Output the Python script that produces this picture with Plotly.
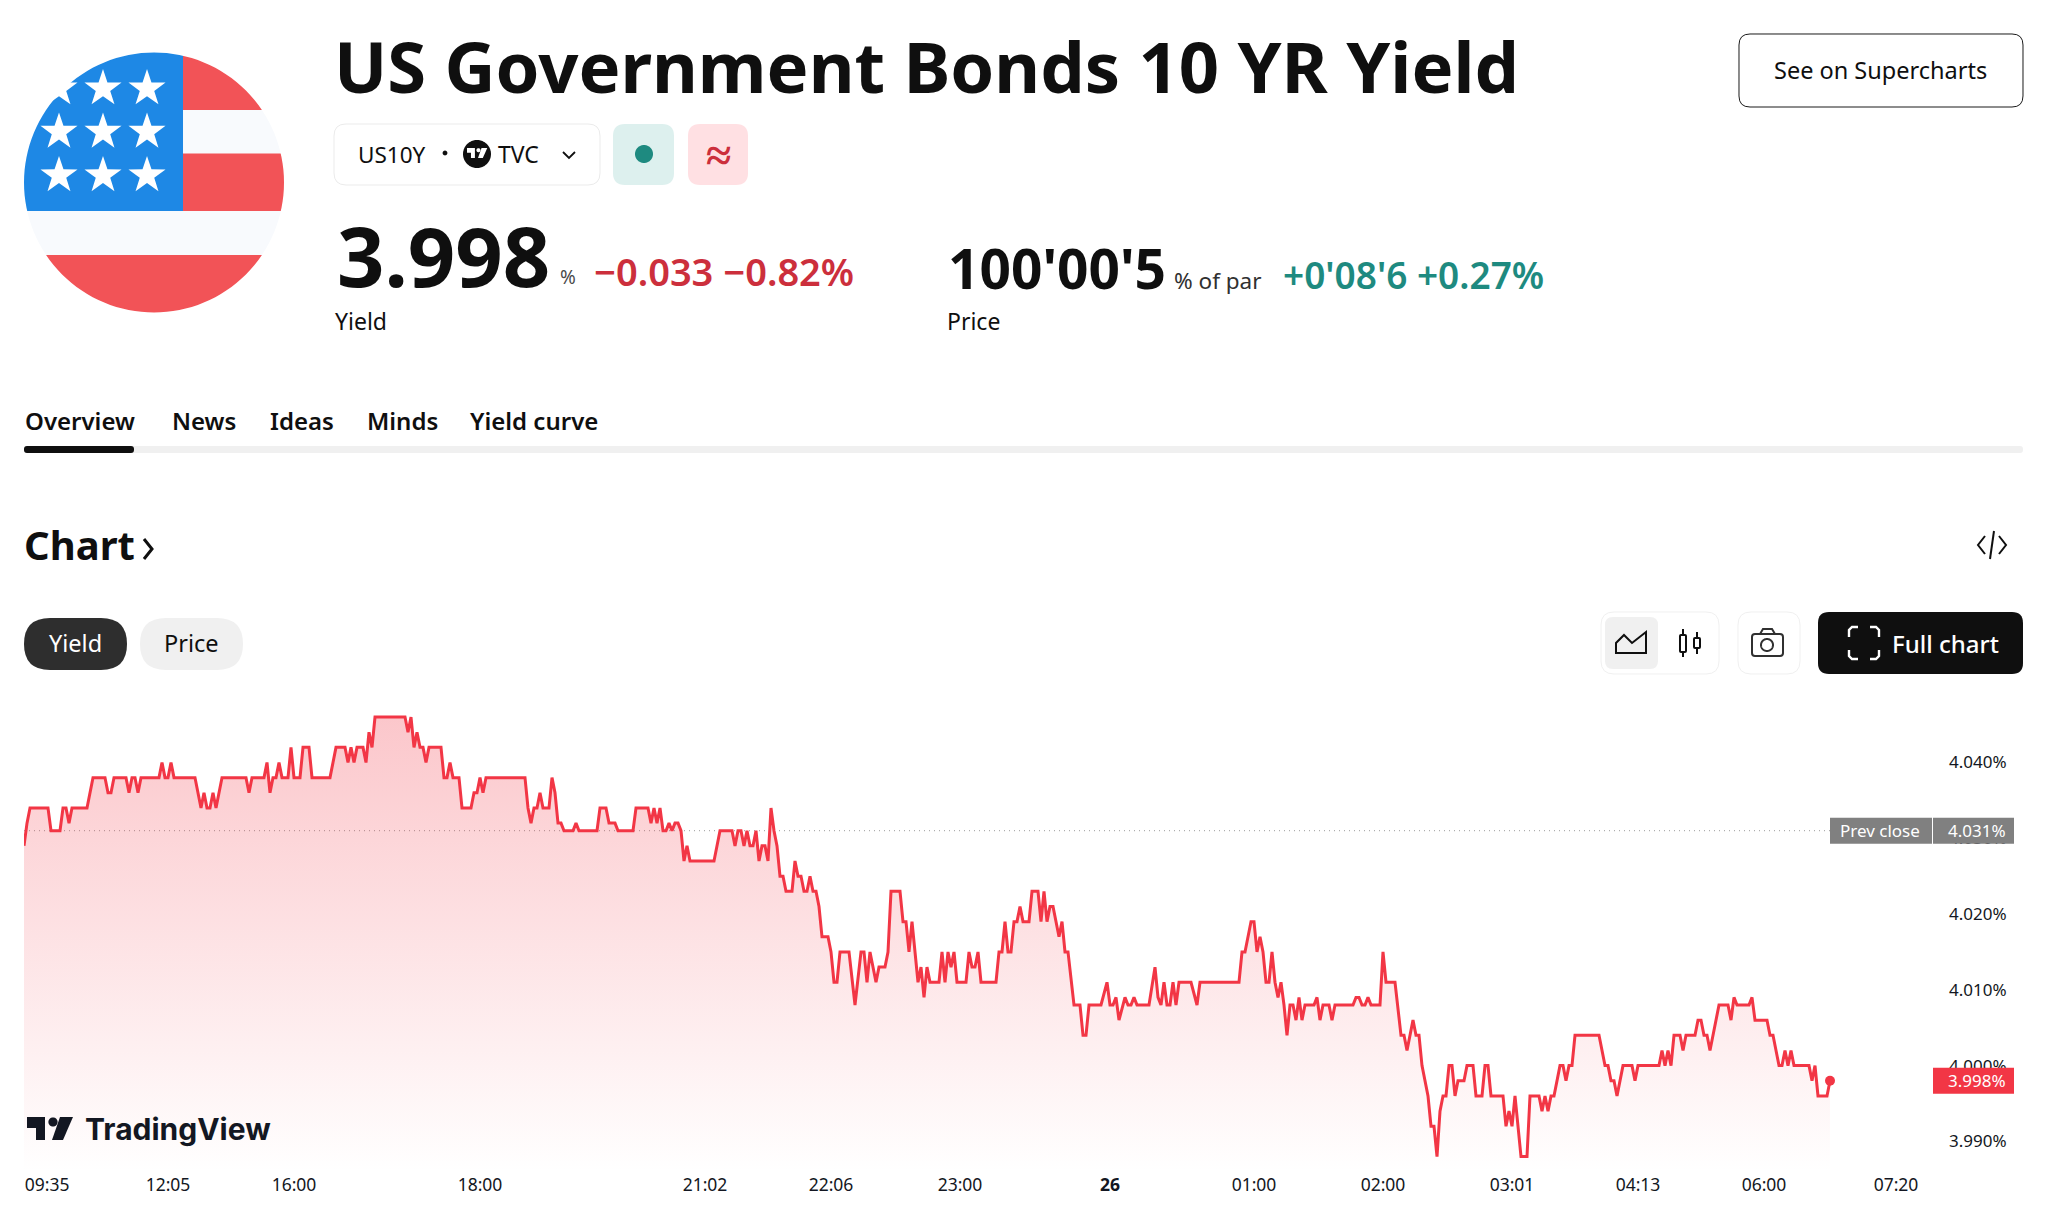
import numpy as np
import plotly.graph_objects as go

W, H = 2048, 1219
FONT = "Noto Sans"
INK = "#131722"

# ---------- data ----------
bar_index = [
0,1,2,8,9,12,13,14,15,16,21,23,27,28,29,30,34,35,36,37,38,39,45,46,47,48,49,50,57,59,60,61,62,63,64,66,74,75,76,80,
81,82,83,84,85,86,88,89,90,92,93,95,96,102,104,107,108,109,110,111,113,114,115,116,117,127,128,129,130,131,132,133,134,135,139,140,141,142,143,145,
146,149,150,151,152,153,154,167,168,169,170,171,172,173,175,176,177,178,179,180,183,184,185,191,192,194,195,197,198,203,204,208,209,210,211,212,213,214,215,216,
217,218,219,220,221,222,230,232,236,237,238,239,240,241,242,243,244,245,246,247,248,249,250,251,252,253,254,256,257,258,259,260,261,262,263,264,265,266,268,269,
270,271,272,275,277,279,280,281,282,284,285,287,288,289,292,293,294,295,296,298,299,300,301,302,305,306,307,308,309,310,311,312,314,315,316,317,318,319,324,325,
326,327,328,329,330,331,332,333,335,336,338,339,340,341,342,343,345,346,347,348,350,352,353,354,355,359,361,362,363,364,365,367,368,369,370,371,375,377,378,379,
380,381,382,383,384,385,389,391,392,405,406,407,409,410,411,412,413,414,415,416,417,418,419,420,421,422,423,424,425,426,427,430,431,432,433,435,436,437,443,444,
445,446,447,448,449,452,453,454,457,459,460,461,463,464,465,466,467,468,469,470,471,472,473,474,475,476,477,478,480,481,483,484,486,487,488,489,493,494,495,496,
497,499,501,502,505,506,507,508,509,510,512,513,514,515,516,517,525,527,528,529,530,531,533,536,537,538,545,546,547,548,549,550,552,553,554,557,558,559,560,561,
562,565,568,569,570,571,575,576,577,581,582,583,585,586,587,588,589,590,595,596,597,598,601,602,
]
yield_pct = [
4.029,4.032,4.034,4.034,4.031,4.031,4.034,4.034,4.032,4.034,4.034,4.038,4.038,4.036,4.036,4.038,4.038,4.036,4.038,4.038,4.036,4.038,4.038,4.040,4.038,4.038,4.040,4.038,4.038,4.034,4.036,4.034,4.034,4.036,4.034,4.038,4.038,4.036,4.038,4.038,
4.040,4.036,4.038,4.038,4.040,4.038,4.038,4.042,4.038,4.038,4.042,4.042,4.038,4.038,4.042,4.042,4.040,4.042,4.040,4.042,4.042,4.040,4.044,4.042,4.046,4.046,4.044,4.046,4.042,4.044,4.042,4.042,4.040,4.042,4.042,4.038,4.038,4.040,4.038,4.038,
4.034,4.034,4.036,4.036,4.038,4.036,4.038,4.038,4.034,4.032,4.034,4.034,4.036,4.034,4.034,4.038,4.036,4.032,4.032,4.031,4.031,4.032,4.031,4.031,4.034,4.034,4.032,4.032,4.031,4.031,4.034,4.034,4.032,4.034,4.032,4.034,4.031,4.031,4.032,4.031,
4.032,4.032,4.031,4.027,4.029,4.027,4.027,4.031,4.031,4.029,4.031,4.031,4.029,4.031,4.029,4.029,4.031,4.027,4.029,4.029,4.027,4.034,4.031,4.029,4.025,4.025,4.023,4.023,4.027,4.025,4.025,4.023,4.023,4.025,4.023,4.023,4.021,4.017,4.017,4.015,
4.011,4.011,4.015,4.015,4.008,4.015,4.015,4.011,4.015,4.011,4.013,4.013,4.015,4.023,4.023,4.019,4.019,4.015,4.019,4.011,4.013,4.009,4.013,4.011,4.011,4.015,4.011,4.015,4.013,4.015,4.011,4.011,4.011,4.015,4.013,4.013,4.015,4.011,4.011,4.015,
4.015,4.019,4.015,4.015,4.019,4.019,4.021,4.019,4.019,4.023,4.023,4.019,4.023,4.019,4.021,4.021,4.017,4.019,4.015,4.015,4.008,4.008,4.004,4.004,4.008,4.008,4.011,4.008,4.008,4.009,4.006,4.009,4.008,4.008,4.009,4.008,4.008,4.013,4.009,4.008,
4.011,4.008,4.008,4.011,4.008,4.011,4.011,4.008,4.011,4.011,4.015,4.015,4.019,4.019,4.015,4.017,4.015,4.011,4.011,4.015,4.011,4.009,4.011,4.008,4.004,4.008,4.008,4.006,4.009,4.006,4.008,4.008,4.009,4.006,4.008,4.008,4.006,4.008,4.008,4.009,
4.009,4.008,4.008,4.009,4.008,4.008,4.015,4.011,4.011,4.004,4.004,4.002,4.006,4.004,4.004,4.000,3.998,3.996,3.992,3.992,3.988,3.994,3.996,3.996,4.000,4.000,3.996,3.998,3.998,4.000,4.000,3.996,3.996,4.000,4.000,3.996,3.996,3.992,3.994,3.992,
3.996,3.988,3.988,3.996,3.996,3.994,3.996,3.994,3.996,3.996,4.000,4.000,3.998,4.000,4.000,4.004,4.004,4.000,4.000,3.998,3.998,3.996,4.000,4.000,3.998,4.000,4.000,4.002,4.000,4.002,4.000,4.004,4.004,4.002,4.004,4.004,4.006,4.006,4.004,4.004,
4.002,4.008,4.008,4.006,4.009,4.008,4.008,4.009,4.006,4.006,4.004,4.004,4.000,4.000,4.002,4.000,4.002,4.000,4.000,3.998,4.000,3.996,3.996,3.998,
]
assert len(bar_index) == len(yield_pct)

prev_close = 4.031
y_tick_values = [3.990, 4.000, 4.010, 4.020, 4.030, 4.040]
y_tick_labels = ["3.990%", "4.000%", "4.010%", "4.020%", "4.030%", "4.040%"]
x_tick_bars = [7.7, 48, 90, 152, 227, 269, 312, 362, 410, 453, 496, 538, 580, 624]
x_tick_labels = ["09:35", "12:05", "16:00", "18:00", "21:02", "22:06", "23:00", "<b>26</b>",
                 "01:00", "02:00", "03:01", "04:13", "06:00", "07:20"]

# ---------- page geometry helpers ----------
def X(p): return p / W
def Y(p): return 1 - p / H

shapes, annots = [], []

def path_of(pts, close=True):
    s = "M" + " L".join(f"{X(a):.5f},{Y(b):.5f}" for a, b in pts)
    return s + (" Z" if close else "")

def add_path(d, fill=None, line=None, lw=0):
    shapes.append(dict(type="path", path=d, xref="paper", yref="paper", layer="above",
                       fillcolor=fill or "rgba(0,0,0,0)",
                       line=dict(color=line or "rgba(0,0,0,0)", width=lw)))

def poly(pts, fill=None, line=None, lw=0, close=True):
    add_path(path_of(pts, close), fill, line, lw)

def rrect(x0, y0, x1, y1, r, fill=None, line=None, lw=0):
    a = lambda x, y: f"{X(x):.5f},{Y(y):.5f}"
    d = (f"M{a(x0+r,y0)} L{a(x1-r,y0)} Q{a(x1,y0)} {a(x1,y0+r)} L{a(x1,y1-r)} Q{a(x1,y1)} {a(x1-r,y1)} "
         f"L{a(x0+r,y1)} Q{a(x0,y1)} {a(x0,y1-r)} L{a(x0,y0+r)} Q{a(x0,y0)} {a(x0+r,y0)} Z")
    add_path(d, fill, line, lw)

def circle_pts(cx, cy, r, n=96, rev=False):
    t = np.linspace(0, 2 * np.pi, n, endpoint=False)
    if rev:
        t = t[::-1]
    return [(cx + r * np.cos(v), cy + r * np.sin(v)) for v in t]

def circle(cx, cy, r, fill=None, line=None, lw=0):
    poly(circle_pts(cx, cy, r), fill, line, lw)

def txt(x, y, text, size, color=INK, anchor="left", weight=400, font=FONT):
    annots.append(dict(x=X(x), y=Y(y), xref="paper", yref="paper", text=text, showarrow=False,
                       xanchor=anchor, yanchor="middle", borderpad=0,
                       font=dict(family=font, size=size, color=color, weight=weight)))

# ---------- flag ----------
BLUE, RED, WHT = "#1E88E5", "#F25357", "#F8FAFD"
cx, cy, R = 154, 182.5, 130
poly([(20, 48), (290, 48), (290, 318), (20, 318)], WHT)
poly([(183, 48), (290, 48), (290, 110), (183, 110)], RED)
poly([(183, 153.5), (290, 153.5), (290, 211), (183, 211)], RED)
poly([(20, 255), (290, 255), (290, 318), (20, 318)], RED)
poly([(20, 48), (183, 48), (183, 211), (20, 211)], BLUE)
for sy in (88.6, 131.9, 175.5):
    for sx in (59, 103, 147):
        pts = []
        for k in range(10):
            rad = 19.5 if k % 2 == 0 else 7.6
            ang = -np.pi / 2 + k * np.pi / 5
            pts.append((sx + rad * np.cos(ang), sy + rad * np.sin(ang)))
        poly(pts, "#FFFFFF")
add_path(path_of([(16, 44), (294, 44), (294, 322), (16, 322)]) + " " + path_of(circle_pts(cx, cy, R, 128, rev=True)), "#FFFFFF")

# ---------- header ----------
txt(333, 65.5, "US Government Bonds 10 YR Yield", 70.5, "#0F0F0F", weight=700)
rrect(1739, 34, 2023, 107, 11, "#FFFFFF", "#1a1a1a", 1)
txt(1880, 70, "See on Supercharts", 23.5, "#0F0F0F", "center")

rrect(334, 124, 600, 185, 12, "#FFFFFF", "#EBEBEB", 1)
txt(357, 154, "US10Y", 22.5, "#0F0F0F")
circle(445, 153, 2.4, "#0F0F0F")
circle(477, 154, 14, "#0F0F0F")
def tv_logo(ox, oy, s, color):
    poly([(ox, oy), (ox + 18*s, oy), (ox + 18*s, oy + 23*s), (ox + 9*s, oy + 23*s), (ox + 9*s, oy + 11*s), (ox, oy + 11*s)], color)
    circle(ox + 26*s, oy + 5*s, 4.6*s, color)
    poly([(ox + 33*s, oy), (ox + 46*s, oy), (ox + 36*s, oy + 23*s), (ox + 25*s, oy + 23*s)], color)
tv_logo(467, 148, 0.44, "#FFFFFF")
txt(497, 154, "TVC", 23, "#0F0F0F")
poly([(563, 152), (569, 158), (575, 152)], None, "#0F0F0F", 1.8, close=False)
rrect(613, 124, 674, 185, 12, "#DDF0EE")
circle(644, 154, 9, "#1E8A80")
rrect(688, 124, 748, 185, 12, "#FFE0E3")
txt(718, 153, "≈", 46, "#CC2F3C", "center", 700)

txt(336, 254.5, "3.998", 83, "#0F0F0F", weight=700)
txt(559, 277, "%", 19, "#4A4A4A")
txt(593, 271, "−0.033 −0.82%", 38, "#CC2F3C", weight=600)
txt(334, 321, "Yield", 23, "#0F0F0F")
txt(947, 268, "100'00'5", 55, "#0F0F0F", weight=700)
txt(1173, 280, "% of par", 22.5, "#303030")
txt(1282, 274, "+0'08'6 +0.27%", 37, "#1E8A80", weight=600)
txt(946, 321, "Price", 23, "#0F0F0F")

for x, t in [(24, "Overview"), (171, "News"), (269, "Ideas"), (366, "Minds"), (469, "Yield curve")]:
    txt(x, 420, t, 24, "#0F0F0F", weight=600)
rrect(24, 446, 2023, 453, 3, "#F0F0F0")
rrect(24, 446, 134, 453, 3, "#0F0F0F")

txt(23, 544, "Chart", 40, "#0F0F0F", weight=700)
poly([(144, 539), (152, 549), (144, 559)], None, "#0F0F0F", 3, close=False)
poly([(1985, 536), (1978, 545), (1985, 554)], None, "#0F0F0F", 2, close=False)
poly([(1999, 536), (2006, 545), (1999, 554)], None, "#0F0F0F", 2, close=False)
poly([(1994, 531), (1990, 559)], None, "#0F0F0F", 2, close=False)

# pills
rrect(24, 618, 127, 670, 26, "#2E2E2E")
txt(75, 643, "Yield", 23.5, "#FFFFFF", "center")
rrect(140, 618, 243, 670, 26, "#F0F0F0")
txt(191, 643, "Price", 23.5, "#0F0F0F", "center")

# toolbar
rrect(1601, 612, 1719, 674, 13, "#FFFFFF", "#F0F0F0", 1)
rrect(1605, 617, 1658, 669, 8, "#F0F0F0")
poly([(1616, 653), (1616, 643), (1624, 635), (1632, 643), (1646, 632), (1646, 653)], None, "#0F0F0F", 2)
for a, b, c, d, e, f in [(1680, 1686, 635, 652, 629, 657), (1694, 1700, 638, 648, 632, 654)]:
    rrect(a, c, b, d, 1, None, "#0F0F0F", 2)
    m = (a + b) / 2
    poly([(m, e), (m, c)], None, "#0F0F0F", 2, close=False)
    poly([(m, d), (m, f)], None, "#0F0F0F", 2, close=False)
rrect(1738, 612, 1800, 674, 13, "#FFFFFF", "#F0F0F0", 1)
rrect(1752, 634, 1783, 656, 3, None, "#303030", 2)
poly([(1760, 634), (1763, 629), (1772, 629), (1775, 634)], None, "#303030", 2, close=False)
circle(1767, 645, 6, None, "#303030", 2)
rrect(1818, 612, 2023, 674, 11, "#0F0F0F")
for p in ([(1849, 637), (1849, 630), (1852, 627), (1858, 627)], [(1870, 627), (1876, 627), (1879, 630), (1879, 637)],
          [(1849, 650), (1849, 656), (1852, 659), (1858, 659)], [(1870, 659), (1876, 659), (1879, 656), (1879, 650)]):
    poly(p, None, "#FFFFFF", 2.4, close=False)
txt(1945, 643, "Full chart", 24, "#FFFFFF", "center", 500)

# ---------- chart ----------
PL, PR, PT, PB = 24, 1948, 700, 1172
BAR_PX = 3.0
YPX_PER_UNIT = 7578.0
y_at = lambda py: 4.04 - (py - 762.5) / YPX_PER_UNIT
x_range = [0, (PR - PL) / BAR_PX]
y_range = [y_at(PB), y_at(PT)]

fig = go.Figure()
fig.add_trace(go.Scatter(x=[bar_index[0], bar_index[-1]], y=[prev_close, prev_close], mode="lines",
                         line=dict(color="#9A9A9A", width=1, dash="1px,4px"), hoverinfo="skip"))
fig.add_trace(go.Scatter(
    x=bar_index, y=yield_pct, mode="lines", line=dict(color="#F23645", width=3), fill="tozeroy",
    fillgradient=dict(type="vertical", start=max(yield_pct), stop=y_at(PB),
                      colorscale=[[0, "rgba(242,54,69,0.28)"], [1, "rgba(242,54,69,0.0)"]]),
    fillcolor="rgba(0,0,0,0)"))
fig.add_trace(go.Scatter(x=bar_index[-1:], y=yield_pct[-1:], mode="markers",
                         marker=dict(color="#F23645", size=10)))

# price tags on the axis, tied to the data values
def tag(x0, x1, value, color):
    shapes.append(dict(type="rect", xref="paper", yref="y", x0=X(x0), x1=X(x1),
                       y0=value - 13 / YPX_PER_UNIT, y1=value + 13 / YPX_PER_UNIT,
                       fillcolor=color, line=dict(width=0), layer="above"))
def tag_text(x, value, text):
    annots.append(dict(x=X(x), y=value, xref="paper", yref="y", text=text, showarrow=False,
                       xanchor="center", yanchor="middle", borderpad=0,
                       font=dict(family=FONT, size=17, color="#FFFFFF")))
tag(1830, 1932, prev_close, "#808080")
tag(1933, 2014, prev_close, "#808080")
tag_text(1880, prev_close, "Prev close")
tag_text(1977, prev_close, f"{prev_close:.3f}%")
tag(1933, 2014, yield_pct[-1], "#F23645")
tag_text(1977, yield_pct[-1], f"{yield_pct[-1]:.3f}%")

# watermark
tv_logo(27, 1117, 1.0, INK)
txt(84, 1129, "TradingView", 30, INK, weight=700, font="Inter")

fig.update_layout(
    width=W, height=H, margin=dict(l=0, r=0, t=0, b=0), autosize=False,
    paper_bgcolor="#FFFFFF", plot_bgcolor="#FFFFFF", showlegend=False,
    shapes=shapes, annotations=annots,
    font=dict(family=FONT, size=17, color=INK),
    xaxis=dict(domain=[X(PL), X(PR)], range=x_range, tickmode="array", tickvals=x_tick_bars,
               ticktext=x_tick_labels, showgrid=False, zeroline=False, showline=False, ticks="",
               tickfont=dict(family=FONT, size=17.5, color=INK), fixedrange=True),
    yaxis=dict(domain=[Y(PB), Y(PT)], range=y_range, side="right", tickmode="array", tickvals=y_tick_values,
               ticktext=y_tick_labels, showgrid=False, zeroline=False, showline=False, ticks="",
               tickfont=dict(family=FONT, size=17, color=INK), fixedrange=True),
)
fig.write_html("out.html", config=dict(displayModeBar=False),
               post_script="document.body.style.margin='0';document.body.style.overflow='hidden';")
